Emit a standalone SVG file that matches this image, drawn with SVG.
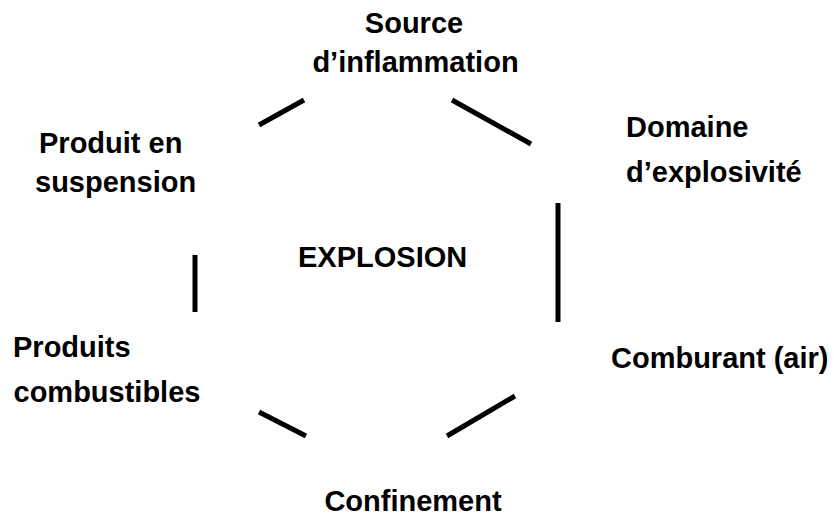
<svg xmlns="http://www.w3.org/2000/svg" width="834" height="528" viewBox="0 0 834 528">
<style>
.t{font-family:"Liberation Sans",Arial,sans-serif;font-weight:bold;font-size:29px;fill:#000}
.e{stroke:#000;stroke-width:5;fill:none;stroke-linecap:butt}
</style>
<rect width="834" height="528" fill="#fff"/>
<g id="connectors">
<line class="e" x1="259" y1="125" x2="304" y2="100"/>
<line class="e" x1="452" y1="100" x2="531" y2="144"/>
<line class="e" x1="558" y1="203" x2="558" y2="322"/>
<line class="e" x1="195" y1="255" x2="195" y2="312"/>
<line class="e" x1="259" y1="412" x2="306" y2="436"/>
<line class="e" x1="447" y1="436" x2="515" y2="396"/>
</g>
<g id="center"><text class="t" x="298" y="267">EXPLOSION</text></g>
<g id="source"><text class="t" x="414" y="33" text-anchor="middle">Source</text><text class="t" x="415.5" y="72" text-anchor="middle">d’inflammation</text></g>
<g id="domaine"><text class="t" x="626" y="137">Domaine</text><text class="t" x="626" y="182">d’explosivité</text></g>
<g id="comburant"><text class="t" x="611" y="368">Comburant (air)</text></g>
<g id="confinement"><text class="t" x="413" y="511" text-anchor="middle">Confinement</text></g>
<g id="combustibles"><text class="t" x="13" y="357">Produits</text><text class="t" x="13.5" y="402">combustibles</text></g>
<g id="suspension"><text class="t" x="39" y="153">Produit en</text><text class="t" x="35" y="192">suspension</text></g>
</svg>
